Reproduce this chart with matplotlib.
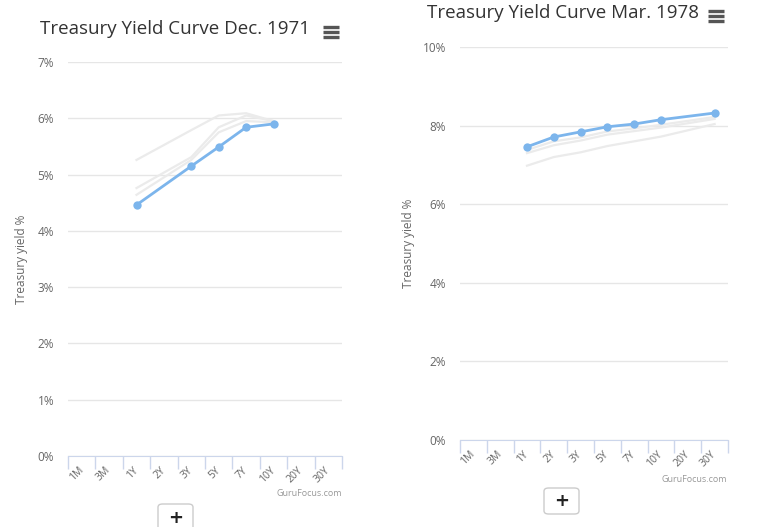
import numpy as np
import matplotlib
matplotlib.use('Agg')
import matplotlib.pyplot as plt
from matplotlib.patches import FancyBboxPatch
from matplotlib.lines import Line2D

plt.rcParams['font.family'] = ['Open Sans', 'DejaVu Sans']

tenors = ['1M', '3M', '1Y', '2Y', '3Y', '5Y', '7Y', '10Y', '20Y', '30Y']
nan = np.nan

# Dec. 1971 (current curve + earlier months in grey)
dec71_yield = [nan, nan, 4.46, nan, 5.15, 5.49, 5.84, 5.90, nan, nan]
dec71_prev1 = [nan, nan, 5.26, nan, 5.79, 6.05, 6.09, 5.95, nan, nan]
dec71_prev2 = [nan, nan, 4.76, nan, 5.31, 5.84, 6.05, 5.95, nan, nan]
dec71_prev3 = [nan, nan, 4.64, nan, 5.26, 5.75, 5.95, 5.93, nan, nan]

# Mar. 1978
mar78_yield = [nan, nan, 7.46, 7.71, 7.84, 7.97, 8.04, 8.15, nan, 8.32]
mar78_prev1 = [nan, nan, 7.38, 7.60, 7.70, 7.85, 7.93, 8.02, nan, 8.22]
mar78_prev2 = [nan, nan, 7.30, 7.50, 7.62, 7.77, 7.86, 7.95, nan, 8.17]
mar78_prev3 = [nan, nan, 6.98, 7.20, 7.32, 7.48, 7.60, 7.72, nan, 8.04]

blue = '#7cb5ec'
grey_line = '#ebebeb'
txt = '#666666'


def draw_curve(ax, vals, **kw):
    v = np.array(vals, dtype=float)
    idx = np.arange(len(v))
    ok = np.isfinite(v)
    ax.plot(idx[ok], v[ok], **kw)


def make_chart(fig, rect, title, title_xy, menu_xy, ymax, ystep, cur, prevs,
               ylab_x, credit_xy, button_rect):
    ax = fig.add_axes(rect)
    for p in prevs:
        draw_curve(ax, p, color=grey_line, lw=1.6, zorder=2)
    draw_curve(ax, cur, color=blue, lw=2, marker='o', markersize=6,
               markeredgewidth=0, zorder=3)

    ax.set_xlim(-0.5, len(tenors) - 0.5)
    ax.set_ylim(0, ymax)
    ax.set_yticks(np.arange(0, ymax + 0.01, ystep))
    ax.set_yticklabels(['{:d}%'.format(int(t)) for t in np.arange(0, ymax + 0.01, ystep)])
    ax.yaxis.grid(True, color='#e6e6e6', lw=1)
    ax.set_axisbelow(True)
    ax.tick_params(axis='y', length=0, labelsize=8.5, labelcolor=txt, pad=10)

    ax.set_xticks(np.arange(len(tenors)))
    ax.set_xticklabels(tenors, rotation=45, ha='right', va='center',
                       rotation_mode='anchor', fontsize=7.5, color=txt)
    ax.tick_params(axis='x', length=0, pad=9)
    ax.set_xticks(np.arange(len(tenors) + 1) - 0.5, minor=True)
    ax.tick_params(axis='x', which='minor', length=9, color='#ccd6eb', width=1)

    for s in ['top', 'right', 'left']:
        ax.spines[s].set_visible(False)
    ax.spines['bottom'].set_color('#ccd6eb')

    fig.text(title_xy[0], title_xy[1], title, fontsize=13.5, color='#333333',
             ha='left', va='center')
    fig.text(ylab_x, rect[1] + rect[3] / 2, 'Treasury yield %', rotation=90,
             fontsize=8.5, color=txt, ha='center', va='center')
    fig.text(credit_xy[0], credit_xy[1], 'GuruFocus.com', fontsize=6.5,
             color='#999999', ha='right', va='center')

    # menu icon
    mx, my = menu_xy
    for k in range(3):
        y = my - k * 5 / 527
        fig.add_artist(Line2D([mx, mx + 16 / 773], [y, y], color='#555555',
                              lw=2.4, solid_capstyle='butt'))

    # zoom button
    bx, by, bw, bh = button_rect
    fig.add_artist(FancyBboxPatch((bx, by), bw, bh,
                                  boxstyle='round,pad=0,rounding_size=0.006',
                                  fc='white', ec='#cccccc', lw=1,
                                  transform=fig.transFigure))
    fig.text(bx + bw / 2, by + bh / 2, '+', fontsize=13, fontweight='bold',
             color='#222222', ha='center', va='center',
             family='DejaVu Sans')
    return ax


fig = plt.figure(figsize=(7.73, 5.27), dpi=100)
W, H = 773.0, 527.0

make_chart(fig, [68 / W, 1 - 456 / H, 274 / W, 394 / H],
           'Treasury Yield Curve Dec. 1971', (40 / W, 1 - 29 / H),
           (323 / W, 1 - 27 / H), 7, 1, dec71_yield,
           [dec71_prev1, dec71_prev2, dec71_prev3],
           22 / W, (342 / W, 1 - 494 / H),
           (158 / W, 1 - 532 / H, 35 / W, 28 / H))

make_chart(fig, [460 / W, 1 - 440 / H, 268 / W, 393 / H],
           'Treasury Yield Curve Mar. 1978', (427 / W, 1 - 13 / H),
           (708 / W, 1 - 11 / H), 10, 2, mar78_yield,
           [mar78_prev1, mar78_prev2, mar78_prev3],
           408 / W, (727 / W, 1 - 479 / H),
           (544 / W, 1 - 514 / H, 35 / W, 26 / H))

fig.savefig('out.png', dpi=100)
